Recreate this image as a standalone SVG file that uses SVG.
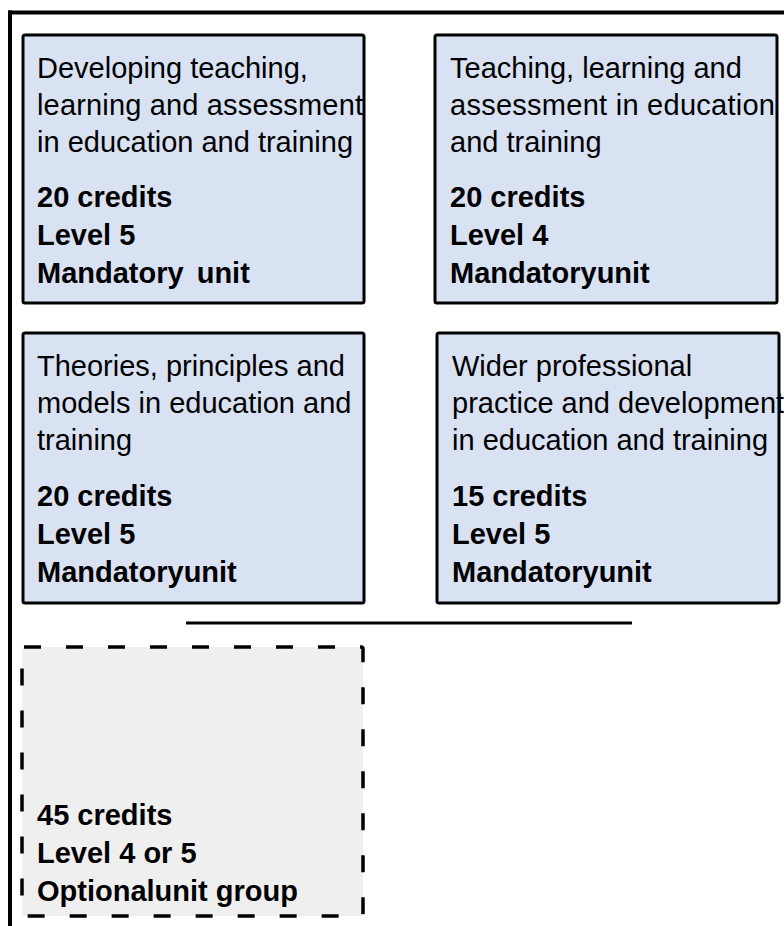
<svg xmlns="http://www.w3.org/2000/svg" width="784" height="926" viewBox="0 0 784 926">
<style>
.box{fill:#d9e2f3;stroke:#000;stroke-width:3}
.opt{fill:#efefef;stroke:#000;stroke-width:3.5;stroke-dasharray:17 25}
.t{font-family:"Liberation Sans",Arial,sans-serif;font-size:29px;fill:#000}
.b{font-family:"Liberation Sans",Arial,sans-serif;font-size:29px;font-weight:bold;fill:#000}
.ln{stroke:#000;fill:none}
</style>
<rect width="784" height="926" fill="#fff"/>
<g id="frame">
<line class="ln" x1="8" y1="12.5" x2="784" y2="12.5" stroke-width="4"/>
<line class="ln" x1="10" y1="10.5" x2="10" y2="926" stroke-width="4"/>
</g>
<g id="connectors">
<line class="ln" x1="186" y1="623" x2="632" y2="623" stroke-width="3"/>
</g>
<g id="unit1">
<rect class="box" x="23" y="35" width="341" height="268" rx="2"/>
<text class="t" x="37" y="78">Developing teaching,</text>
<text class="t" x="37" y="115" textLength="326">learning and assessment</text>
<text class="t" x="37" y="152">in education and training</text>
<text class="b" x="37" y="207">20 credits</text>
<text class="b" x="37" y="245">Level 5</text>
<text class="b" x="37" y="283" word-spacing="5">Mandatory unit</text>
</g>
<g id="unit2">
<rect class="box" x="435" y="35" width="342" height="268" rx="2"/>
<text class="t" x="450" y="78">Teaching, learning and</text>
<text class="t" x="450" y="115" textLength="325">assessment in education</text>
<text class="t" x="450" y="152">and training</text>
<text class="b" x="450" y="207">20 credits</text>
<text class="b" x="450" y="245">Level 4</text>
<text class="b" x="450" y="283">Mandatoryunit</text>
</g>
<g id="unit3">
<rect class="box" x="23" y="333" width="341" height="270" rx="2"/>
<text class="t" x="37" y="376">Theories, principles and</text>
<text class="t" x="37" y="413">models in education and</text>
<text class="t" x="37" y="450">training</text>
<text class="b" x="37" y="506">20 credits</text>
<text class="b" x="37" y="544">Level 5</text>
<text class="b" x="37" y="582">Mandatoryunit</text>
</g>
<g id="unit4">
<rect class="box" x="437" y="333" width="342" height="270" rx="2"/>
<text class="t" x="452" y="376">Wider professional</text>
<text class="t" x="452" y="413">practice and development</text>
<text class="t" x="452" y="450">in education and training</text>
<text class="b" x="452" y="506">15 credits</text>
<text class="b" x="452" y="544">Level 5</text>
<text class="b" x="452" y="582">Mandatoryunit</text>
</g>
<g id="optional">
<rect class="opt" x="22" y="647" width="341" height="269" rx="2"/>
<text class="b" x="37" y="825">45 credits</text>
<text class="b" x="37" y="863">Level 4 or 5</text>
<text class="b" x="37" y="901">Optionalunit group</text>
</g>
</svg>
